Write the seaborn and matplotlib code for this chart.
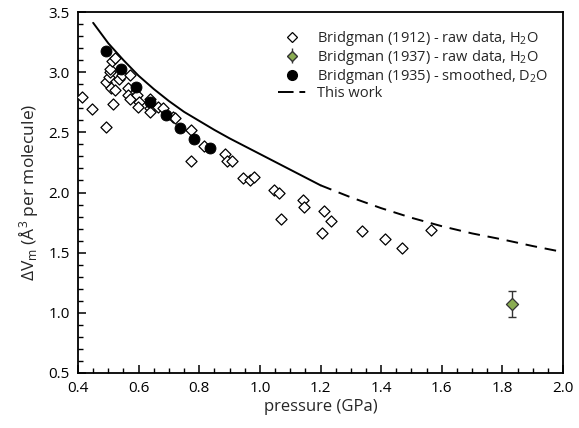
import numpy as np
import pandas as pd
import matplotlib
matplotlib.use('Agg')
import matplotlib.pyplot as plt
from matplotlib.lines import Line2D
from matplotlib.ticker import MultipleLocator, FormatStrFormatter
import seaborn as sns

# Bridgman (1912) - dados brutos, H2O
p_1912 = [0.414, 0.447, 0.492, 0.517, 0.491, 0.508, 0.522, 0.503, 0.506, 0.506,
          0.511, 0.522, 0.536, 0.544, 0.572, 0.566, 0.566, 0.572, 0.594, 0.602,
          0.599, 0.638, 0.638, 0.638, 0.665, 0.681, 0.714, 0.720, 0.773, 0.773,
          0.817, 0.885, 0.890, 0.907, 0.944, 0.967, 0.979, 1.045, 1.062, 1.069,
          1.143, 1.147, 1.212, 1.234, 1.204, 1.337, 1.413, 1.468, 1.565]
dv_1912 = [2.79, 2.69, 2.547, 2.735, 2.92, 2.87, 2.85, 2.96, 3.00, 3.03,
           3.09, 3.115, 2.94, 2.976, 2.976, 2.866, 2.81, 2.78, 2.81, 2.755,
           2.71, 2.78, 2.70, 2.67, 2.71, 2.70, 2.63, 2.616, 2.52, 2.264,
           2.383, 2.32, 2.26, 2.264, 2.12, 2.10, 2.13, 2.02, 1.995, 1.777,
           1.937, 1.877, 1.848, 1.765, 1.66, 1.682, 1.61, 1.536, 1.688]

# Bridgman (1937) - dados brutos, H2O
p_1937 = [1.832]
dv_1937 = [1.073]
err_1937 = [0.11]

# Bridgman (1935) - suavizado, D2O
p_1935 = [0.492, 0.542, 0.591, 0.638, 0.690, 0.737, 0.783, 0.836]
dv_1935 = [3.18, 3.026, 2.877, 2.752, 2.644, 2.536, 2.444, 2.37]

# Este trabalho (parte sólida e tracejada)
p_solid = [0.45, 0.50, 0.55, 0.60, 0.65, 0.70, 0.75, 0.80, 0.85, 0.90, 0.95,
           1.00, 1.05, 1.10, 1.15, 1.20]
dv_solid = [3.41, 3.24, 3.10, 2.97, 2.86, 2.76, 2.67, 2.595, 2.52, 2.45, 2.385,
            2.32, 2.255, 2.19, 2.125, 2.06]
p_dash = [1.20, 1.30, 1.40, 1.50, 1.60, 1.70, 1.80, 1.90, 2.00]
dv_dash = [2.06, 1.96, 1.87, 1.79, 1.72, 1.66, 1.61, 1.555, 1.505]

sns.set_style('ticks')
plt.rcParams['font.family'] = ['Open Sans', 'DejaVu Sans']
plt.rcParams['mathtext.fontset'] = 'custom'
plt.rcParams['mathtext.rm'] = 'Open Sans'
plt.rcParams['mathtext.it'] = 'Open Sans:italic'
plt.rcParams['axes.linewidth'] = 1.3

fig = plt.figure(figsize=(5.79, 4.28), dpi=100)
ax = fig.add_axes([78 / 579, 1 - 373 / 428, (563 - 78) / 579, (373 - 12) / 428])

sns.lineplot(x=p_solid, y=dv_solid, ax=ax, color='black', linewidth=1.4, sort=False)
sns.lineplot(x=p_dash, y=dv_dash, ax=ax, color='black', linewidth=1.4, sort=False,
             linestyle=(0, (6, 4)))

sns.scatterplot(x=p_1912, y=dv_1912, ax=ax, marker='D', s=32, facecolor='white',
                edgecolor='black', linewidth=0.9, zorder=3)
sns.scatterplot(x=p_1935, y=dv_1935, ax=ax, marker='o', s=62, color='black',
                edgecolor='black', zorder=4)
ax.errorbar(p_1937, dv_1937, yerr=err_1937, fmt='none', ecolor='#333333',
            elinewidth=1.0, capsize=3, capthick=1.0, zorder=3)
sns.scatterplot(x=p_1937, y=dv_1937, ax=ax, marker='D', s=38, color='#8aac52',
                edgecolor='#333333', linewidth=0.9, zorder=4)

ax.set_xlim(0.4, 2.0)
ax.set_ylim(0.5, 3.5)
ax.xaxis.set_major_locator(MultipleLocator(0.2))
ax.xaxis.set_minor_locator(MultipleLocator(0.05))
ax.yaxis.set_major_locator(MultipleLocator(0.5))
ax.yaxis.set_minor_locator(MultipleLocator(0.1))
ax.xaxis.set_major_formatter(FormatStrFormatter('%.1f'))
ax.yaxis.set_major_formatter(FormatStrFormatter('%.1f'))
ax.tick_params(which='both', direction='in', top=False, right=False,
               labelsize=11, color='black', labelcolor='black')
ax.tick_params(which='major', length=6, width=1.1, pad=6)
ax.tick_params(which='minor', length=3.5, width=1.0)
for sp in ax.spines.values():
    sp.set_visible(True)
    sp.set_color('black')

ax.set_xlabel('pressure (GPa)', fontsize=12, labelpad=2)
ax.set_ylabel('ΔV$_\\mathrm{m}$ (Å$^3$ per molecule)', fontsize=12.5, labelpad=5)

handles = [
    Line2D([], [], marker='D', linestyle='none', markersize=5, markerfacecolor='white',
           markeredgecolor='black', markeredgewidth=0.9),
    ax.errorbar([], [], yerr=[], fmt='D', markersize=5.5, color='#8aac52',
                markeredgecolor='#333333', ecolor='#333333', capsize=3, elinewidth=1.0),
    Line2D([], [], marker='o', linestyle='none', markersize=7, color='black'),
    Line2D([], [], color='black', linewidth=1.4, dashes=(8, 3, 3, 3, 3, 3)),
]
labels = ['Bridgman (1912) - raw data, H$_2$O',
          'Bridgman (1937) - raw data, H$_2$O',
          'Bridgman (1935) - smoothed, D$_2$O',
          'This work']
ax.legend(handles, labels, loc='upper left', bbox_to_anchor=(0.4, 0.97),
          frameon=False, fontsize=10.5, handlelength=1.9, handletextpad=0.8,
          labelspacing=0.0, borderaxespad=0.0)

fig.savefig('out.png', dpi=100)
